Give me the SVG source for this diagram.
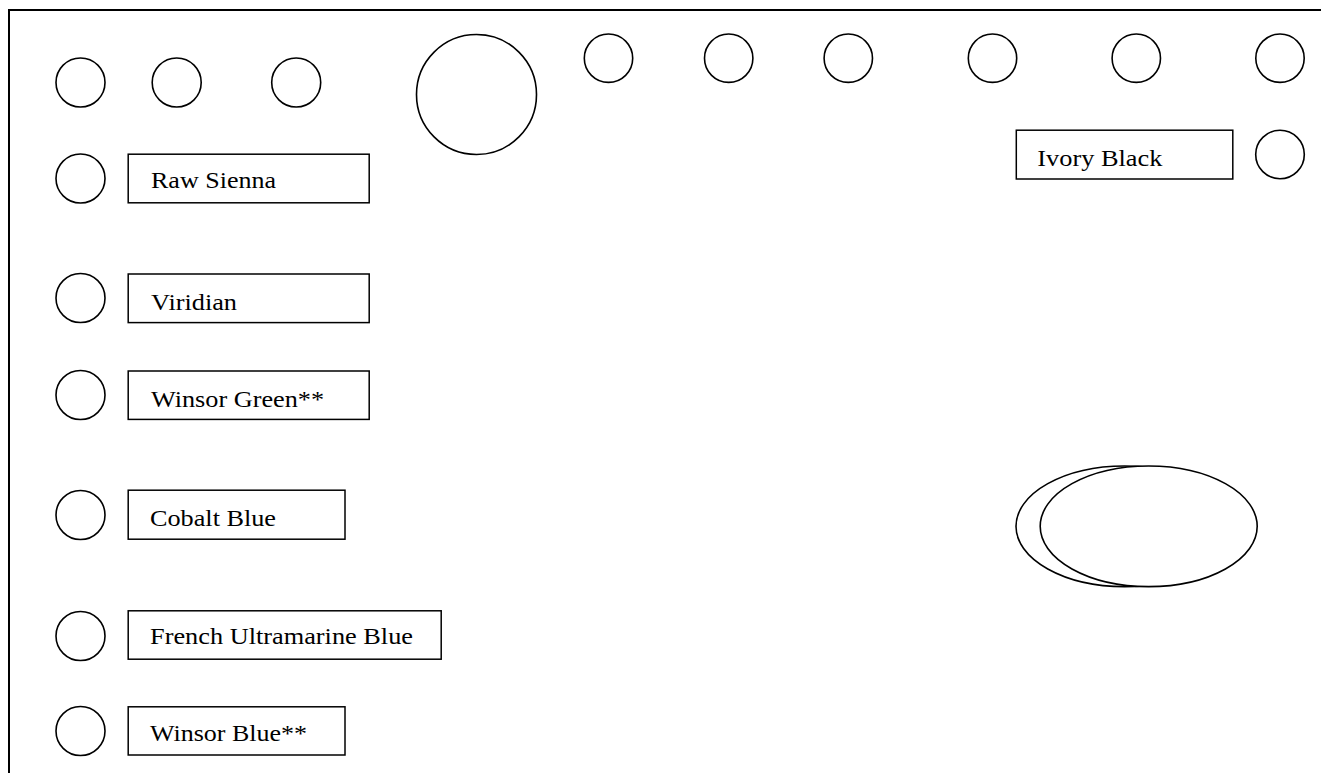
<svg xmlns="http://www.w3.org/2000/svg" width="1321" height="773" viewBox="0 0 1321 773">
<style>
  .c { fill: #fff; stroke: #000; stroke-width: 1.6; }
  .b { fill: #fff; stroke: #000; stroke-width: 1.5; }
  .t { font-family: "Liberation Serif", "Times New Roman", serif; font-size: 24px; fill: #000; }
  .frame { fill: none; stroke: #000; stroke-width: 2; }
</style>
<rect width="1321" height="773" fill="#fff"/>
<path class="frame" d="M9,773 V10 H1321"/>
<g id="connectors"></g>
<g id="top-circles">
  <circle class="c" cx="80.5" cy="82.5" r="24.5"/>
  <circle class="c" cx="176.7" cy="82.5" r="24.5"/>
  <circle class="c" cx="296.2" cy="82.5" r="24.5"/>
  <circle class="c" cx="476.5" cy="94.5" r="60"/>
  <circle class="c" cx="608.5" cy="58.2" r="24.2"/>
  <circle class="c" cx="728.7" cy="58.2" r="24.2"/>
  <circle class="c" cx="848.3" cy="58.2" r="24.2"/>
  <circle class="c" cx="992.5" cy="58.2" r="24.2"/>
  <circle class="c" cx="1136.3" cy="58.2" r="24.2"/>
  <circle class="c" cx="1280" cy="58.2" r="24.2"/>
</g>
<g id="raw-sienna">
  <circle class="c" cx="80.5" cy="178.5" r="24.5"/>
  <rect class="b" x="128.2" y="154.2" width="241" height="48.6"/>
  <text class="t" x="151" y="188.3" textLength="125" lengthAdjust="spacingAndGlyphs">Raw Sienna</text>
</g>
<g id="viridian">
  <circle class="c" cx="80.5" cy="298" r="24.5"/>
  <rect class="b" x="128.2" y="274" width="241" height="48.6"/>
  <text class="t" x="151" y="310" textLength="86" lengthAdjust="spacingAndGlyphs">Viridian</text>
</g>
<g id="winsor-green">
  <circle class="c" cx="80.5" cy="395" r="24.5"/>
  <rect class="b" x="128.2" y="371" width="241" height="48.4"/>
  <text class="t" x="151" y="407" textLength="173" lengthAdjust="spacingAndGlyphs">Winsor Green**</text>
</g>
<g id="cobalt-blue">
  <circle class="c" cx="80.5" cy="515" r="24.5"/>
  <rect class="b" x="128.2" y="490.2" width="216.8" height="49"/>
  <text class="t" x="150" y="526" textLength="126" lengthAdjust="spacingAndGlyphs">Cobalt Blue</text>
</g>
<g id="french-ultramarine-blue">
  <circle class="c" cx="80.5" cy="636" r="24.5"/>
  <rect class="b" x="128.2" y="610.8" width="313" height="48.4"/>
  <text class="t" x="150" y="644.3" textLength="263" lengthAdjust="spacingAndGlyphs">French Ultramarine Blue</text>
</g>
<g id="winsor-blue">
  <circle class="c" cx="80.5" cy="731" r="24.5"/>
  <rect class="b" x="128.2" y="706.8" width="216.8" height="48.2"/>
  <text class="t" x="150" y="740.5" textLength="157" lengthAdjust="spacingAndGlyphs">Winsor Blue**</text>
</g>
<g id="ivory-black">
  <rect class="b" x="1016.3" y="130.2" width="216.5" height="48.8"/>
  <text class="t" x="1037.3" y="165.7" textLength="125" lengthAdjust="spacingAndGlyphs">Ivory Black</text>
  <circle class="c" cx="1280" cy="154.5" r="24.3"/>
</g>
<g id="palette-wells">
  <ellipse class="c" cx="1124.5" cy="526.3" rx="108.5" ry="60.3"/>
  <ellipse class="c" cx="1148.7" cy="526.3" rx="108.5" ry="60.3"/>
</g>
</svg>
